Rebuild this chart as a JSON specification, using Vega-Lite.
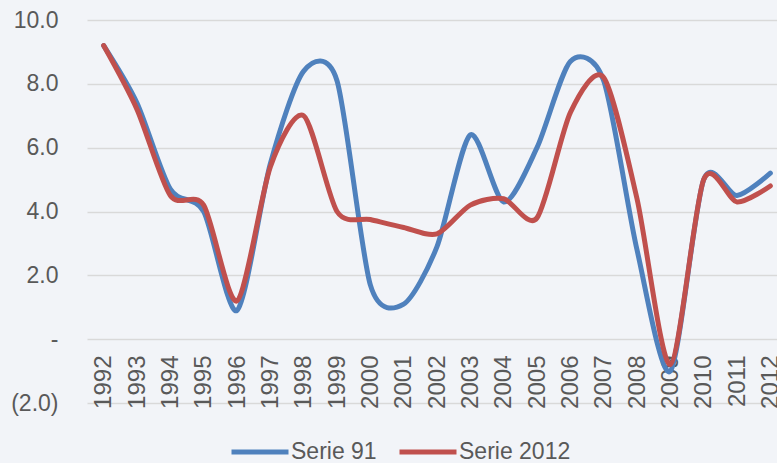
{
  "$schema": "https://vega.github.io/schema/vega-lite/v6.json",
  "width": 700,
  "height": 383,
  "autosize": {"type": "none"},
  "padding": {"left": 87, "top": 20, "right": 0, "bottom": 60},
  "background": "#f2f4f8",
  "config": {
    "view": {"stroke": null},
    "font": "Liberation Sans"
  },
  "data": {
    "values": [
      {"year": "1992", "series": "Serie 91", "value": 9.2},
      {"year": "1993", "series": "Serie 91", "value": 7.4},
      {"year": "1994", "series": "Serie 91", "value": 4.7},
      {"year": "1995", "series": "Serie 91", "value": 4.0},
      {"year": "1996", "series": "Serie 91", "value": 0.9},
      {"year": "1997", "series": "Serie 91", "value": 5.5},
      {"year": "1998", "series": "Serie 91", "value": 8.4},
      {"year": "1999", "series": "Serie 91", "value": 8.1},
      {"year": "2000", "series": "Serie 91", "value": 1.7},
      {"year": "2001", "series": "Serie 91", "value": 1.1},
      {"year": "2002", "series": "Serie 91", "value": 2.9},
      {"year": "2003", "series": "Serie 91", "value": 6.4},
      {"year": "2004", "series": "Serie 91", "value": 4.3},
      {"year": "2005", "series": "Serie 91", "value": 6.0},
      {"year": "2006", "series": "Serie 91", "value": 8.7},
      {"year": "2007", "series": "Serie 91", "value": 8.1},
      {"year": "2008", "series": "Serie 91", "value": 2.8},
      {"year": "2009", "series": "Serie 91", "value": -1.0},
      {"year": "2010", "series": "Serie 91", "value": 5.0},
      {"year": "2011", "series": "Serie 91", "value": 4.5},
      {"year": "2012", "series": "Serie 91", "value": 5.2},
      {"year": "1992", "series": "Serie 2012", "value": 9.2},
      {"year": "1993", "series": "Serie 2012", "value": 7.2},
      {"year": "1994", "series": "Serie 2012", "value": 4.5},
      {"year": "1995", "series": "Serie 2012", "value": 4.2},
      {"year": "1996", "series": "Serie 2012", "value": 1.2},
      {"year": "1997", "series": "Serie 2012", "value": 5.4},
      {"year": "1998", "series": "Serie 2012", "value": 7.0},
      {"year": "1999", "series": "Serie 2012", "value": 4.0},
      {"year": "2000", "series": "Serie 2012", "value": 3.75},
      {"year": "2001", "series": "Serie 2012", "value": 3.5},
      {"year": "2002", "series": "Serie 2012", "value": 3.3},
      {"year": "2003", "series": "Serie 2012", "value": 4.2},
      {"year": "2004", "series": "Serie 2012", "value": 4.4},
      {"year": "2005", "series": "Serie 2012", "value": 3.8},
      {"year": "2006", "series": "Serie 2012", "value": 7.1},
      {"year": "2007", "series": "Serie 2012", "value": 8.2},
      {"year": "2008", "series": "Serie 2012", "value": 4.4},
      {"year": "2009", "series": "Serie 2012", "value": -0.8},
      {"year": "2010", "series": "Serie 2012", "value": 5.0},
      {"year": "2011", "series": "Serie 2012", "value": 4.3},
      {"year": "2012", "series": "Serie 2012", "value": 4.8}
    ]
  },
  "mark": {"type": "line", "interpolate": "cardinal", "tension": 0.2, "strokeWidth": 5, "strokeCap": "round"},
  "encoding": {
    "x": {
      "field": "year",
      "type": "ordinal",
      "scale": {"type": "point", "padding": 0.5},
      "axis": {
        "title": null,
        "domain": false,
        "ticks": false,
        "grid": false,
        "offset": -63,
        "labelAngle": -90,
        "labelAlign": "right",
        "labelBaseline": "middle",
        "labelPadding": 15,
        "labelFontSize": 24,
        "labelColor": "#595959"
      }
    },
    "y": {
      "field": "value",
      "type": "quantitative",
      "scale": {"domain": [-2, 10], "nice": false, "zero": false},
      "axis": {
        "title": null,
        "domain": false,
        "ticks": false,
        "values": [-2, 0, 2, 4, 6, 8, 10],
        "gridColor": "#d9d9d9",
        "gridWidth": 1.5,
        "labelPadding": 29,
        "labelFontSize": 23,
        "labelColor": "#595959",
        "labelExpr": "datum.value == 0 ? '-' : (datum.value < 0 ? '(' + format(-datum.value, '.1f') + ')' : format(datum.value, '.1f'))"
      }
    },
    "color": {
      "field": "series",
      "type": "nominal",
      "sort": ["Serie 91", "Serie 2012"],
      "scale": {"domain": ["Serie 91", "Serie 2012"], "range": ["#4f81bd", "#c0504d"]},
      "legend": {
        "title": null,
        "orient": "none",
        "direction": "horizontal",
        "legendX": 142,
        "legendY": 401,
        "symbolType": "stroke",
        "symbolSize": 3249,
        "symbolStrokeWidth": 5,
        "labelFontSize": 23,
        "labelColor": "#595959",
        "labelOffset": 0,
        "columnPadding": 12
      }
    }
  }
}
